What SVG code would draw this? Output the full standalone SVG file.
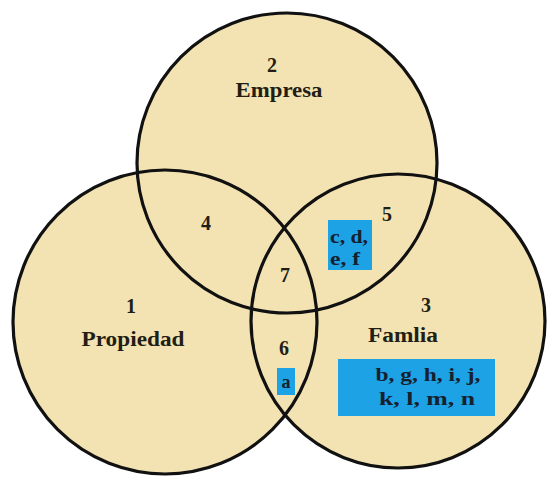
<svg xmlns="http://www.w3.org/2000/svg" width="547" height="479" viewBox="0 0 547 479">
<style>
.c{fill:#F3E3B2;stroke:none}
.o{fill:none;stroke:#111;stroke-width:3.2}
.t{font-family:"Liberation Serif","Times New Roman",serif;font-weight:bold;fill:#231e14;text-anchor:middle}
.lb{font-size:20px}
.bx{font-size:18px;fill:#16202e}
.box{fill:#1DA2E6}
</style>
<rect width="547" height="479" fill="#ffffff"/>
<g id="fills">
<circle class="c" cx="287" cy="163" r="150"/>
<circle class="c" cx="165" cy="322" r="152"/>
<circle class="c" cx="398" cy="321" r="147"/>
</g>
<g id="outlines">
<circle class="o" cx="287" cy="163" r="150"/>
<circle class="o" cx="165" cy="322" r="152"/>
<circle class="o" cx="398" cy="321" r="147"/>
</g>
<g id="empresa">
<text class="t lb" x="272" y="72">2</text>
<text class="t lb" x="279" y="97" textLength="87" lengthAdjust="spacingAndGlyphs">Empresa</text>
</g>
<g id="propiedad">
<text class="t lb" x="131" y="313">1</text>
<text class="t lb" x="133" y="346" textLength="103" lengthAdjust="spacingAndGlyphs">Propiedad</text>
</g>
<g id="familia">
<text class="t lb" x="426" y="312">3</text>
<text class="t lb" x="403" y="342" textLength="70" lengthAdjust="spacingAndGlyphs">Famlia</text>
<rect class="box" x="338" y="359" width="157" height="57"/>
<text class="t bx" x="428" y="381" textLength="105" lengthAdjust="spacingAndGlyphs">b, g, h, i, j,</text>
<text class="t bx" x="427" y="405" textLength="96" lengthAdjust="spacingAndGlyphs">k, l, m, n</text>
</g>
<g id="region4">
<text class="t lb" x="206" y="230">4</text>
</g>
<g id="region5">
<text class="t lb" x="387" y="221">5</text>
<rect class="box" x="328" y="220" width="44" height="50"/>
<text class="t bx" x="349" y="243" textLength="38" lengthAdjust="spacingAndGlyphs">c, d,</text>
<text class="t bx" x="345" y="265" textLength="30" lengthAdjust="spacingAndGlyphs">e, f</text>
</g>
<g id="region6">
<text class="t lb" x="284" y="355">6</text>
<rect class="box" x="277" y="368" width="18" height="27"/>
<text class="t bx" x="286" y="388">a</text>
</g>
<g id="region7">
<text class="t lb" x="285" y="282">7</text>
</g>
<g id="connectors"></g>
</svg>
